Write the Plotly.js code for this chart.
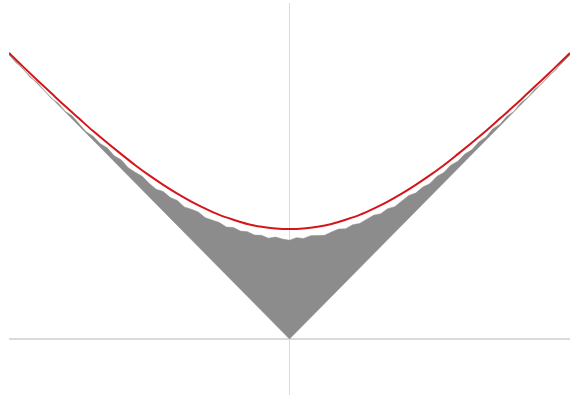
<!DOCTYPE html>
<html>
<head>
<meta charset="utf-8">
<script src="https://cdn.plot.ly/plotly-3.0.1.min.js"></script>
<style>html,body{margin:0;padding:0;background:#fff;}#chart{width:570px;height:400px;}</style>
</head>
<body>
<div id="chart"></div>
<script>
// Smooth red curve (expected value)
const curveX = [-1,-0.95,-0.9,-0.85,-0.8,-0.75,-0.7,-0.65,-0.6,-0.55,-0.5,-0.45,-0.4,-0.35,-0.3,-0.25,-0.2,-0.15,-0.1,-0.05,0,
                0.05,0.1,0.15,0.2,0.25,0.3,0.35,0.4,0.45,0.5,0.55,0.6,0.65,0.7,0.75,0.8,0.85,0.9,0.95,1];
const curveY = [1.007,0.959,0.912,0.866,0.820,0.776,0.732,0.691,0.651,0.612,0.576,0.543,0.512,0.484,0.459,0.437,0.420,0.405,0.395,0.389,0.387,
                0.389,0.395,0.405,0.420,0.437,0.459,0.484,0.512,0.543,0.576,0.612,0.651,0.691,0.732,0.776,0.820,0.866,0.912,0.959,1.007];

// Noisy upper edge of the grey band
const bandX = [-1,-0.975,-0.95,-0.925,-0.9,-0.875,-0.85,-0.825,-0.8,-0.775,-0.75,-0.725,-0.7,-0.675,-0.65,-0.625,-0.6,-0.575,-0.55,-0.525,
               -0.5,-0.475,-0.45,-0.425,-0.4,-0.375,-0.35,-0.325,-0.3,-0.275,-0.25,-0.225,-0.2,-0.175,-0.15,-0.125,-0.1,-0.075,-0.05,-0.025,0,
               0.025,0.05,0.075,0.1,0.125,0.15,0.175,0.2,0.225,0.25,0.275,0.3,0.325,0.35,0.375,0.4,0.425,0.45,0.475,
               0.5,0.525,0.55,0.575,0.6,0.625,0.65,0.675,0.7,0.725,0.75,0.775,0.8,0.825,0.85,0.875,0.9,0.925,0.95,0.975,1];
const bandTop = [1.001,0.973,0.952,0.922,0.904,0.875,0.848,0.831,0.802,0.786,0.757,0.730,0.714,0.688,0.673,0.645,0.631,0.603,0.587,0.573,
                 0.548,0.527,0.519,0.498,0.488,0.465,0.457,0.447,0.427,0.418,0.410,0.394,0.393,0.380,0.378,0.366,0.365,0.355,0.359,0.352,0.348,
                 0.357,0.354,0.364,0.365,0.365,0.377,0.387,0.388,0.402,0.407,0.422,0.436,0.441,0.459,0.466,0.487,0.505,0.514,0.535,
                 0.547,0.572,0.586,0.612,0.626,0.651,0.666,0.694,0.711,0.740,0.756,0.784,0.801,0.832,0.851,0.880,0.899,0.928,0.948,0.978,1.001];

// Lower V edge of the grey band
const lowX = [1, 0, -1];
const lowY = [1, 0, 1];

const polyX = bandX.concat(lowX);
const polyY = bandTop.concat(lowY);

const traces = [
  {x: polyX, y: polyY, type: 'scatter', mode: 'lines', fill: 'toself',
   fillcolor: 'rgb(140,140,140)', line: {width: 0.5, color: 'rgb(140,140,140)'}, hoverinfo: 'skip'},
  {x: curveX, y: curveY, type: 'scatter', mode: 'lines',
   line: {color: 'rgb(212,22,26)', width: 2, shape: 'spline'}}
];

const layout = {
  width: 570, height: 400,
  margin: {l: 9, r: 0, t: 3, b: 5},
  paper_bgcolor: '#fff', plot_bgcolor: '#fff',
  showlegend: false,
  xaxis: {range: [-1, 1], showgrid: false, showticklabels: false, ticks: '', showline: false,
          zeroline: true, zerolinecolor: '#dadada', zerolinewidth: 1.5, layer: 'above traces'},
  yaxis: {range: [-0.197, 1.183], showgrid: false, showticklabels: false, ticks: '', showline: false,
          zeroline: true, zerolinecolor: '#dadada', zerolinewidth: 1.5}
};

Plotly.newPlot('chart', traces, layout, {displayModeBar: false, staticPlot: true});
</script>
</body>
</html>
